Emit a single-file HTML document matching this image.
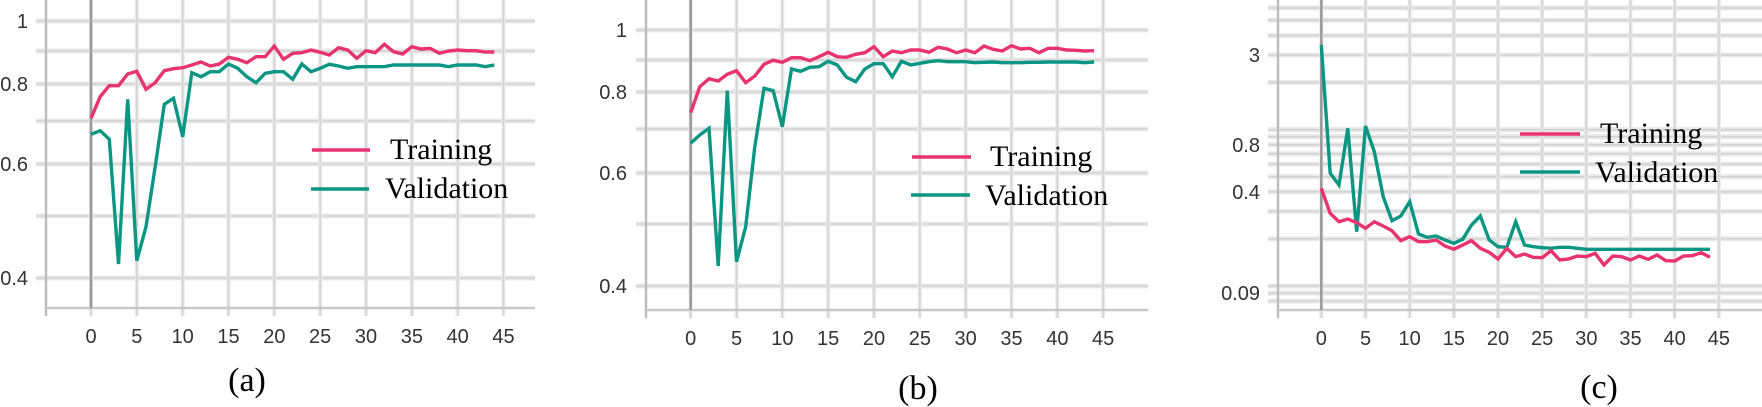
<!DOCTYPE html>
<html><head><meta charset="utf-8"><style>
html,body{margin:0;padding:0;background:#fff;}
svg{display:block;}
.t{font-family:"Liberation Sans",sans-serif;font-size:20px;fill:#333;}
.s{font-family:"Liberation Serif",serif;font-size:30px;fill:#000;}
.c{font-family:"Liberation Serif",serif;font-size:34px;fill:#000;}
</style></head><body>
<svg id="g" width="1762" height="407" viewBox="0 0 1762 407" xmlns="http://www.w3.org/2000/svg">
<g id="grid"></g>
<g id="lines"></g>
<text class="t" x="28" y="28" text-anchor="end">1</text>
<text class="t" x="28" y="91" text-anchor="end">0.8</text>
<text class="t" x="28" y="171" text-anchor="end">0.6</text>
<text class="t" x="28" y="285" text-anchor="end">0.4</text>
<text class="t" x="627" y="37" text-anchor="end">1</text>
<text class="t" x="627" y="99" text-anchor="end">0.8</text>
<text class="t" x="627" y="180" text-anchor="end">0.6</text>
<text class="t" x="627" y="293" text-anchor="end">0.4</text>
<text class="t" x="1260" y="62" text-anchor="end">3</text>
<text class="t" x="1260" y="152" text-anchor="end">0.8</text>
<text class="t" x="1260" y="199" text-anchor="end">0.4</text>
<text class="t" x="1260" y="300" text-anchor="end">0.09</text>
<g id="xl"></g>
<line x1="312" y1="150" x2="370" y2="150" stroke="#e8336f" stroke-width="3.5"/>
<line x1="311" y1="189" x2="369" y2="189" stroke="#0a9683" stroke-width="3.5"/>
<text class="s" x="390" y="159">Training</text>
<text class="s" x="385" y="198">Validation</text>
<line x1="912" y1="157" x2="971" y2="157" stroke="#e8336f" stroke-width="3.5"/>
<line x1="911" y1="195" x2="970" y2="195" stroke="#0a9683" stroke-width="3.5"/>
<text class="s" x="990" y="166">Training</text>
<text class="s" x="985" y="205">Validation</text>
<line x1="1520" y1="134" x2="1580" y2="134" stroke="#e8336f" stroke-width="3.5"/>
<line x1="1520" y1="172" x2="1580" y2="172" stroke="#0a9683" stroke-width="3.5"/>
<text class="s" x="1600" y="143">Training</text>
<text class="s" x="1595" y="182">Validation</text>
<text class="c" x="247" y="391" text-anchor="middle">(a)</text>
<text class="c" x="918" y="399" text-anchor="middle">(b)</text>
<text class="c" x="1599" y="398" text-anchor="middle">(c)</text>
</svg>
<script>
var NS="http://www.w3.org/2000/svg";
function el(p,n,a){var e=document.createElementNS(NS,n);for(var k in a)e.setAttribute(k,a[k]);p.appendChild(e);return e;}
var grid=document.getElementById('grid'),lines=document.getElementById('lines'),xl=document.getElementById('xl');
function panel(P){
  P.ys.forEach(function(y){
    el(grid,'line',{x1:P.border-10,y1:y,x2:P.right,y2:y,stroke:'#e8e8e8','stroke-width':5});
    el(grid,'line',{x1:P.border-10,y1:y,x2:P.right,y2:y,stroke:'#cfcfcf','stroke-width':1.3});
  });
  for(var i=0;i<=45;i+=5){
    var x=P.off+(P.zx0+i*P.zdx)/3;
    el(grid,'line',{x1:x,y1:0,x2:x,y2:P.bottom+8,stroke:'#e8e8e8','stroke-width':4});
    el(grid,'line',{x1:x,y1:0,x2:x,y2:P.bottom+8,stroke:'#d2d2d2','stroke-width':1.3});
    var t=el(xl,'text',{'class':'t',x:x,y:P.bottom+35,'text-anchor':'middle'});t.textContent=String(i);
  }
  el(grid,'line',{x1:P.border,y1:0,x2:P.border,y2:P.bottom+8,stroke:'#bdbdbd','stroke-width':2.5});
  el(grid,'line',{x1:P.border,y1:P.bottom,x2:P.right,y2:P.bottom,stroke:'#c8c8c8','stroke-width':2.5});
  var x0=P.off+P.zx0/3;
  el(grid,'line',{x1:x0,y1:0,x2:x0,y2:P.bottom,stroke:'#999','stroke-width':2.5});
  function pl(arr,col){
    var pts=arr.map(function(v,i){return (P.off+(P.zx0+i*P.zdx)/3).toFixed(1)+','+(v/3).toFixed(1);}).join(' ');
    el(lines,'polyline',{points:pts,fill:'none',stroke:col,'stroke-width':3.4,'stroke-linejoin':'miter'});
  }
  pl(P.val,'#0a9683');pl(P.tr,'#e8336f');
}
panel({off:0,zx0:273,zdx:27.5,border:46,right:535,bottom:308,ys:[21,51,84,121,164,216,278],
tr:[355,290,257,257,222,214,268,248,212,206,203,195,186,198,192,172,178,188,170,170,138,178,160,158,150,157,165,143,150,175,152,158,133,155,162,140,147,145,160,153,150,152,152,156,156],
val:[403,392,418,792,298,782,680,500,313,295,410,218,230,215,215,192,205,230,248,220,215,215,238,192,215,205,193,198,205,200,200,200,200,195,195,195,195,195,195,200,195,195,195,200,195]});
panel({off:600,zx0:272,zdx:27.5,border:646,right:1148,bottom:310,ys:[30,60,92,129,173,224,286],
tr:[338,260,236,243,223,212,248,228,193,181,187,173,173,182,170,157,170,172,163,158,140,170,153,158,150,150,157,142,147,158,150,158,138,148,153,137,147,145,158,145,145,150,151,153,152],
val:[430,405,385,798,272,785,680,440,265,272,380,207,214,202,200,184,195,232,245,207,191,191,230,184,195,190,185,182,185,185,185,188,187,186,188,188,188,187,187,186,186,186,186,188,186]});
var cy=[7,6,5,4,3,2,1,.9,.8,.7,.6,.5,.4,.3,.2,.1,.09,.08].map(function(v){return 55-(Math.log(v)-Math.log(3))*67.9;});
var cv=[135,520,555,385,695,378,455,590,662,648,605,702,712,708,720,730,718,675,648,720,740,742,665,735,740,743,745,742,742,745,748];
while(cv.length<45)cv.push(748);
panel({off:1080,zx0:724,zdx:26.5,border:1278,right:1762,bottom:310,ys:cy,
tr:[565,640,665,657,668,685,665,678,692,722,710,725,725,720,738,748,735,722,745,757,777,745,770,762,772,773,752,780,777,768,770,760,795,768,770,780,768,778,765,782,783,768,767,758,772],
val:cv});
</script>
</body></html>
